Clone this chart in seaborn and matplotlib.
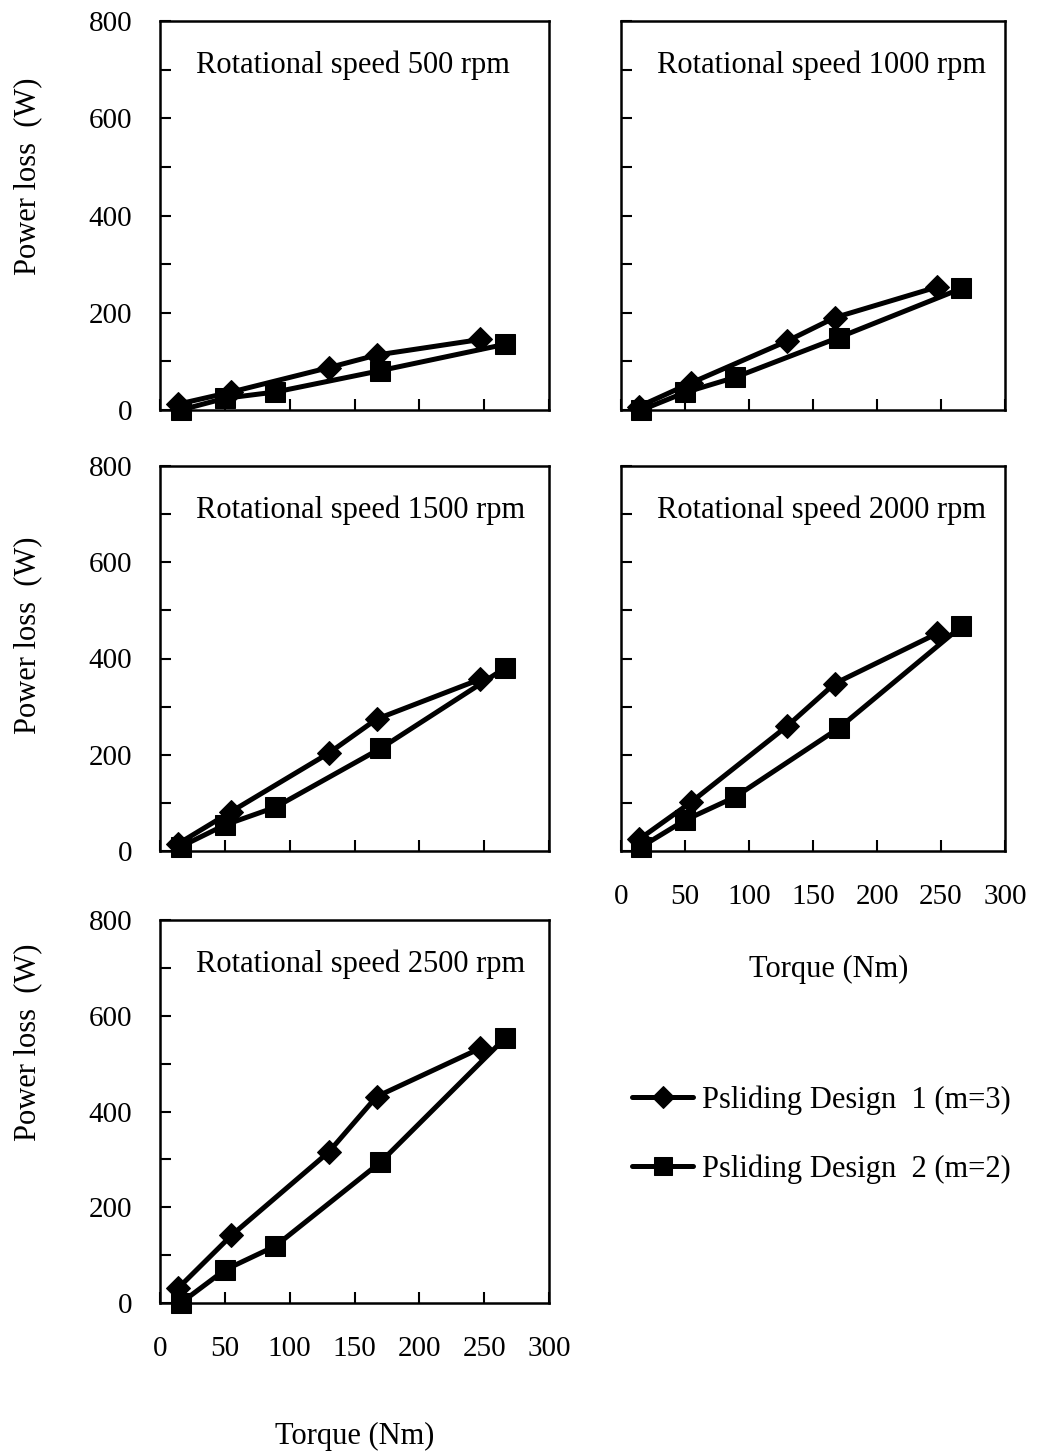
import matplotlib
matplotlib.use('agg')
import matplotlib.pyplot as plt
import seaborn as sns
from matplotlib.ticker import MultipleLocator

sns.set_style('white')
plt.rcParams['font.family'] = ['Liberation Serif', 'DejaVu Serif']
plt.rcParams['text.color'] = 'black'
plt.rcParams['axes.labelcolor'] = 'black'
plt.rcParams['xtick.color'] = 'black'
plt.rcParams['ytick.color'] = 'black'

# torque (Nm) per design, same for every speed
torque_d1 = [14, 55, 130, 167, 247]
torque_d2 = [16, 50, 89, 170, 266]

speeds = [500, 1000, 1500, 2000, 2500]

# power loss (W)
loss_d1_500 = [12, 37, 87, 113, 145]
loss_d2_500 = [0, 24, 37, 81, 135]
loss_d1_1000 = [7, 56, 142, 190, 253]
loss_d2_1000 = [0, 36, 67, 149, 250]
loss_d1_1500 = [15, 82, 203, 274, 357]
loss_d2_1500 = [9, 54, 91, 213, 380]
loss_d1_2000 = [24, 102, 260, 348, 452]
loss_d2_2000 = [9, 64, 112, 255, 467]
loss_d1_2500 = [31, 141, 315, 431, 532]
loss_d2_2500 = [0, 69, 119, 294, 553]

loss_d1 = [loss_d1_500, loss_d1_1000, loss_d1_1500, loss_d1_2000, loss_d1_2500]
loss_d2 = [loss_d2_500, loss_d2_1000, loss_d2_1500, loss_d2_2000, loss_d2_2500]

label_d1 = 'Psliding Design  1 (m=3)'
label_d2 = 'Psliding Design  2 (m=2)'

W, H = 1041, 1452
fig = plt.figure(figsize=(W / 100, H / 100), dpi=100)

# panel boxes in pixels: left, top, right, bottom
boxes = [
    (160, 21, 549, 410),
    (621, 21, 1005, 410),
    (160, 466, 549, 851),
    (621, 466, 1005, 851),
    (160, 920, 549, 1303),
]
ylabel_y = [0.6, None, 0.56, None, 0.68]

fs = 22
axes = []
for i, (l, t, r, b) in enumerate(boxes):
    ax = fig.add_axes([l / W, 1 - b / H, (r - l) / W, (b - t) / H])
    axes.append(ax)
    sns.lineplot(x=torque_d1, y=loss_d1[i], ax=ax, color='black', lw=3.6,
                 marker='D', ms=12, mec='black', sort=False, estimator=None,
                 label=label_d1, clip_on=False, legend=False)
    sns.lineplot(x=torque_d2, y=loss_d2[i], ax=ax, color='black', lw=3.6,
                 marker='s', ms=14, mec='black', sort=False, estimator=None,
                 label=label_d2, clip_on=False, legend=False)
    ax.set_xlim(0, 300)
    ax.set_ylim(0, 800)
    ax.xaxis.set_major_locator(MultipleLocator(50))
    ax.yaxis.set_major_locator(MultipleLocator(200))
    ax.yaxis.set_minor_locator(MultipleLocator(100))
    ax.tick_params(which='both', direction='in', length=8, width=1.5,
                   color='black', labelsize=21, bottom=True, left=True,
                   labelcolor='black')
    ax.tick_params(axis='x', pad=24)
    ax.tick_params(axis='y', pad=20)
    for s in ax.spines.values():
        s.set_color('black')
        s.set_linewidth(1.8)
    ax.text(0.093, 0.885, f'Rotational speed {speeds[i]} rpm', transform=ax.transAxes,
            ha='left', va='center', fontsize=fs, color='black')
    if i % 2 == 0:
        ax.set_ylabel('Power loss  (W)', fontsize=fs)
        ax.yaxis.set_label_coords(-0.303, ylabel_y[i])
    else:
        ax.set_ylabel('')
        ax.tick_params(axis='y', labelleft=False)
    if i in (3, 4):
        ax.set_xlabel('Torque (Nm)', fontsize=fs)
    else:
        ax.set_xlabel('')
        ax.tick_params(axis='x', labelbottom=False)

axes[3].xaxis.set_label_coords(0.54, -0.27)
axes[4].xaxis.set_label_coords(0.50, -0.31)

handles, labels = axes[0].get_legend_handles_labels()
fig.legend(handles, labels, loc='upper left', bbox_to_anchor=(620 / W, 1 - 1073 / H),
           frameon=False, fontsize=fs, handlelength=2.0, handletextpad=0.3,
           labelspacing=1.3, borderaxespad=0, markerscale=0.9)

fig.savefig('out.png', dpi=100, facecolor='white')
